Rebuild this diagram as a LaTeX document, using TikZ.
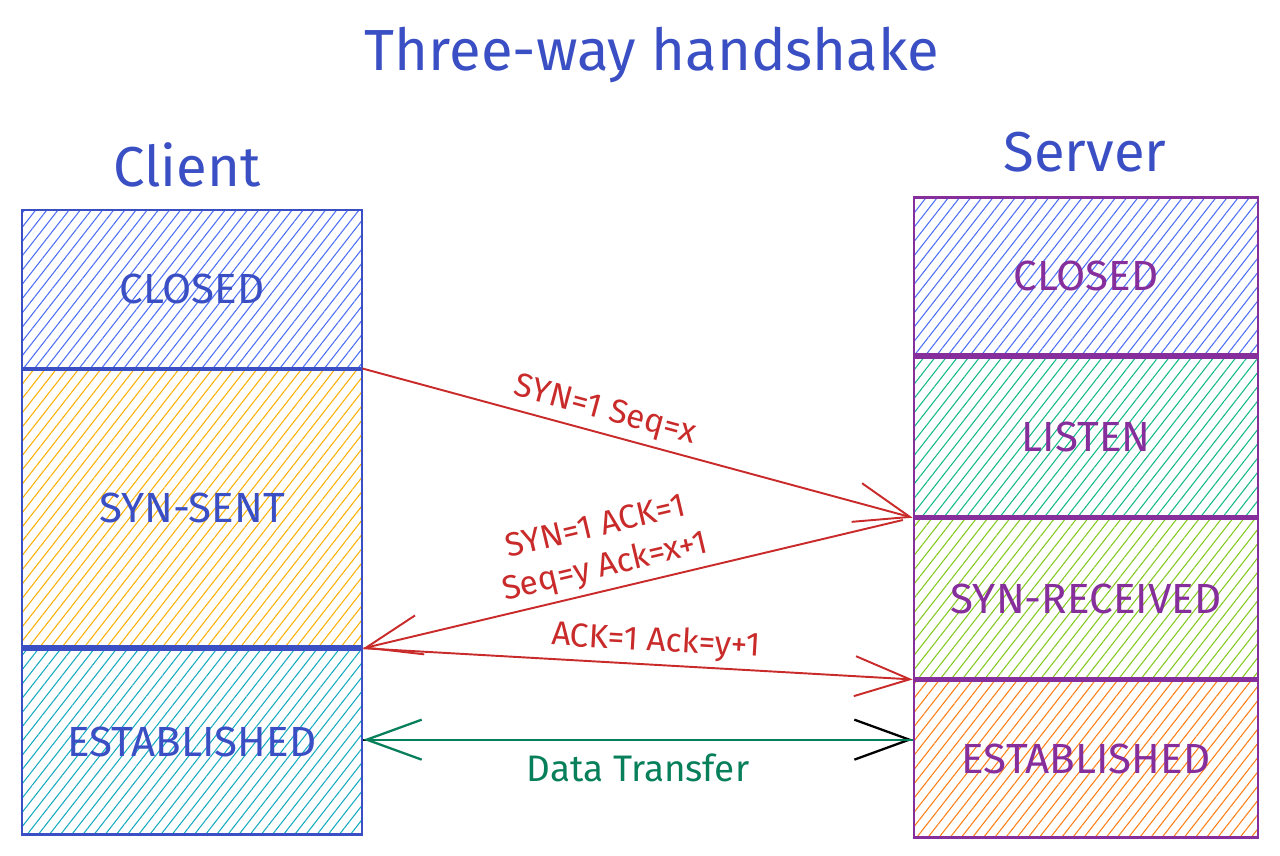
\documentclass[tikz,border=0pt]{standalone}
\usepackage{fontspec}
\setmainfont{Fira Sans}
\usetikzlibrary{arrows.meta, positioning, patterns.meta}
\definecolor{ink}{RGB}{59,79,196}
\definecolor{plum}{RGB}{134,46,156}
\definecolor{msgred}{RGB}{201,42,42}
\definecolor{datagreen}{RGB}{8,127,91}
\definecolor{hblue}{RGB}{76,110,245}
\definecolor{hyellow}{RGB}{250,176,5}
\definecolor{hcyan}{RGB}{21,170,191}
\definecolor{hteal}{RGB}{18,184,134}
\definecolor{hlime}{RGB}{130,201,30}
\definecolor{horange}{RGB}{253,126,20}
\tikzset{
  state/.style={
    rectangle, draw=#1, text=#1, line width=1.6pt,
    minimum width=6.8cm, inner sep=0pt,
    font=\fontsize{24}{28}\selectfont
  },
  hatch/.style={
    pattern={Lines[angle=52, distance=5pt, line width=0.6pt]},
    pattern color=#1
  },
  heading/.style={text=ink, font=\fontsize{33}{40}\selectfont},
  side/.style={text=ink, font=\fontsize{32}{38}\selectfont},
  msg/.style={-{Straight Barb[length=1.1cm, width=0.8cm]}, line width=1.1pt, draw=msgred},
  msglabel/.style={text=msgred, font=\fontsize{19}{23}\selectfont, align=center},
  data/.style={-{Straight Barb[length=1.1cm, width=0.8cm]}, line width=1.3pt, draw=#1}
}
\begin{document}
\begin{tikzpicture}[x=0.02cm, y=-0.02cm]
\useasboundingbox (0,0) rectangle (1280,855);

% Titles
\node[heading] (head) at (652,55) {Three-way handshake};
\node[side] (client) at (187,165) {Client};
\node[side] (server) at (1085,152) {Server};

% Client states
\node[state=ink, hatch=hblue, minimum height=3.16cm] (cclosed) at (192,289) {CLOSED};
\node[state=ink, hatch=hyellow, minimum height=5.54cm, below=0pt of cclosed] (csent) {SYN-SENT};
\node[state=ink, hatch=hcyan, minimum height=3.7cm, below=0pt of csent] (cestab) {ESTABLISHED};

% Server states
\node[state=plum, hatch=hblue, minimum width=6.88cm, minimum height=3.14cm] (sclosed) at (1086,276) {CLOSED};
\node[state=plum, hatch=hteal, minimum width=6.88cm, minimum height=3.18cm, below=0pt of sclosed] (slisten) {LISTEN};
\node[state=plum, hatch=hlime, minimum width=6.88cm, minimum height=3.18cm, below=0pt of slisten] (srcvd) {SYN-RECEIVED};
\node[state=plum, hatch=horange, minimum width=6.88cm, minimum height=3.14cm, below=0pt of srcvd] (sestab) {ESTABLISHED};

% Handshake messages
\draw[msg] (cclosed.south east) -- node[msglabel, pos=0.43, above, sloped] {SYN=1 Seq=x} (slisten.south west);
\draw[msg, shorten <=0.2cm] (srcvd.north west) -- node[msglabel, pos=0.55, above, sloped] {SYN=1 ACK=1\\Seq=y Ack=x+1} (csent.south east);
\draw[msg] (csent.south east) -- node[msglabel, pos=0.53, above, sloped] {ACK=1 Ack=y+1} (sestab.north west);

% Data transfer
\coordinate (dleft) at ([yshift=0.05cm]cestab.east);
\coordinate (dright) at (dleft -| sestab.west);
\draw[data=black] (dleft) -- (dright);
\draw[data=datagreen] (dright) -- node[below=4pt, text=datagreen, font=\fontsize{21}{25}\selectfont] {Data Transfer} (dleft);

\end{tikzpicture}
\end{document}
